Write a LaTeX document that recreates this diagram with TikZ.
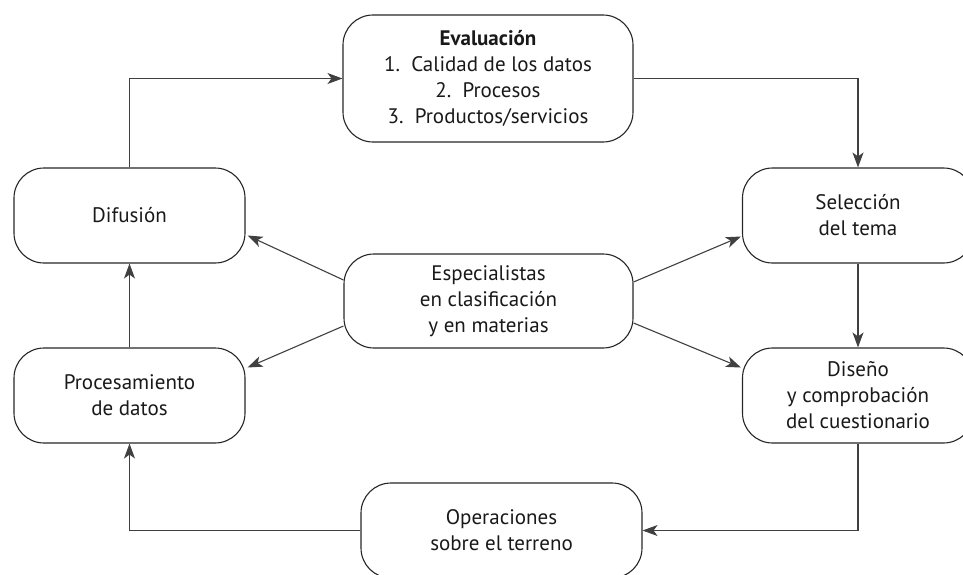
\documentclass[tikz,border=0pt]{standalone}
\usepackage{fontspec}
\setmainfont{PT Sans}
\usetikzlibrary{arrows.meta}
\usetikzlibrary{calc}

\begin{document}
\begin{tikzpicture}[x=1pt,y=-1pt,
  box/.style={draw=black!85,line width=1.1pt,rounded corners=30pt,align=center,inner sep=0pt,
    minimum width=231pt,minimum height=95pt,text=black!90,font=\fontsize{21}{26}\selectfont},
  flow/.style={-{Stealth[length=15pt,width=11pt,inset=4pt]},line width=1.1pt,draw=black!75}]
\useasboundingbox (0,0) rectangle (963,574);

\node[box,minimum width=290pt,minimum height=127pt] (eval) at (488,78.5) {\textbf{Evaluación}\\1.~~Calidad de los datos\\2.~~Procesos\\3.~~Productos/servicios};
\node[box] (dif) at (129.5,215.5) {Difusión};
\node[box] (sel) at (858,215.5) {Selección\\del tema};
\node[box,minimum width=289pt,minimum height=94pt] (esp) at (488.5,301) {Especialistas\\en clasificación\\y en materias};
\node[box] (proc) at (129.5,395.5) {Procesamiento\\de datos};
\node[box] (dis) at (858,395.5) {Diseño\\y comprobación\\del cuestionario};
\node[box,minimum width=281pt] (ope) at (501.5,530.5) {Operaciones\\sobre el terreno};

% ciclo exterior
\draw[flow] (dif.north) |- (eval.west);
\draw[flow] (eval.east) -| (sel.north);
\draw[flow] (sel) -- (dis);
\draw[flow] (dis.south) |- (ope.east);
\draw[flow] (ope.west) -| (proc.south);
\draw[flow] (proc) -- (dif);

% desde los especialistas
\draw[flow] ($(esp.west)+(0,-21)$) -- ($(dif.east)+(2,20)$);
\draw[flow] ($(esp.west)+(0,25)$) -- ($(proc.east)+(2,-28)$);
\draw[flow] ($(esp.east)+(0,-19)$) -- ($(sel.west)+(-1,21)$);
\draw[flow] ($(esp.east)+(0,22)$) -- ($(dis.west)+(-1,-28)$);
\end{tikzpicture}
\end{document}
